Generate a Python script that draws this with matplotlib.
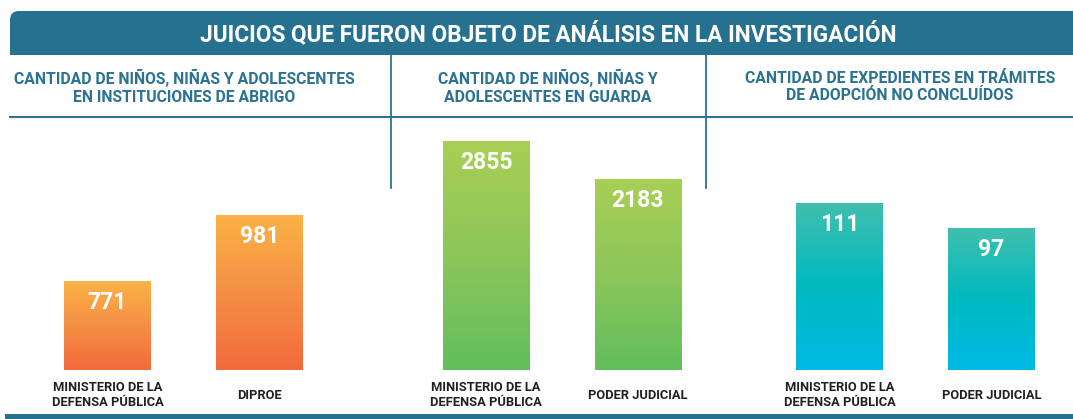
import numpy as np
import matplotlib
matplotlib.use("Agg")
import matplotlib.pyplot as plt
from matplotlib.patches import FancyBboxPatch, Rectangle
from matplotlib.colors import LinearSegmentedColormap

plt.rcParams['font.family'] = ['Roboto', 'DejaVu Sans']

title = "JUICIOS QUE FUERON OBJETO DE ANÁLISIS EN LA INVESTIGACIÓN"
headers = [
    "CANTIDAD DE NIÑOS, NIÑAS Y ADOLESCENTES\nEN INSTITUCIONES DE ABRIGO",
    "CANTIDAD DE NIÑOS, NIÑAS Y\nADOLESCENTES EN GUARDA",
    "CANTIDAD DE EXPEDIENTES EN TRÁMITES\nDE ADOPCIÓN NO CONCLUÍDOS",
]
labels_1 = ["MINISTERIO DE LA\nDEFENSA PÚBLICA", "DIPROE"]
values_1 = [771, 981]
labels_2 = ["MINISTERIO DE LA\nDEFENSA PÚBLICA", "PODER JUDICIAL"]
values_2 = [2855, 2183]
labels_3 = ["MINISTERIO DE LA\nDEFENSA PÚBLICA", "PODER JUDICIAL"]
values_3 = [111, 97]

blue = "#26718f"
head_col = "#2b7391"
grads = [
    ["#f26a3b", "#f58f45", "#fbb246"],
    ["#62be5d", "#8cc65a", "#a8cf55"],
    ["#00bae6", "#00b9c0", "#40bfae"],
]

W, H = 1073, 419
fig = plt.figure(figsize=(W / 100, H / 100), dpi=100)

# decoration layer in pixel coordinates
deco = fig.add_axes([0, 0, 1, 1])
deco.set_xlim(0, W)
deco.set_ylim(H, 0)
deco.axis("off")
deco.add_patch(FancyBboxPatch((10, 11), W, 44, boxstyle="round,pad=0,rounding_size=9",
                              fc=blue, ec="none"))
deco.add_patch(Rectangle((10, 33), W, 22, fc=blue, ec="none"))
deco.text(548, 34, title, color="white", fontsize=16.3, fontweight="bold",
          ha="center", va="center")
deco.plot([10, W], [117, 117], color=head_col, lw=1.5)
deco.plot([391, 391], [55, 188], color=head_col, lw=1.3)
deco.plot([706, 706], [55, 188], color=head_col, lw=1.3)
deco.add_patch(Rectangle((5, 414), W, 6, fc=blue, ec="none"))
for hx, txt in zip([184, 548, 900], headers):
    deco.text(hx, 87, txt, color=head_col, fontsize=11.3, fontweight="bold",
              ha="center", va="center", linespacing=1.2)

panels = [
    (labels_1, values_1, 31.5, (490, 1254)),
    (labels_2, values_2, 410, (-1196, 3052)),
    (labels_3, values_3, 763.5, (18, 152.4)),
]
width = 0.572
for (labs, vals, x0, ylim), cols in zip(panels, grads):
    ax = fig.add_axes([x0 / W, (H - 370) / H, 304 / W, 240 / H])
    ax.set_xlim(-0.5, 1.5)
    ax.set_ylim(*ylim)
    ax.axis("off")
    cmap = LinearSegmentedColormap.from_list("g", cols)
    grad = np.linspace(0, 1, 256).reshape(-1, 1)
    for i, (lab, v) in enumerate(zip(labs, vals)):
        ax.imshow(grad, cmap=cmap, origin="lower", aspect="auto",
                  extent=(i - width / 2, i + width / 2, ylim[0], v), zorder=2)
        ax.annotate(str(v), (i, v), xytext=(0, -21), textcoords="offset pixels",
                    color="white", fontsize=16.5, fontweight="bold",
                    ha="center", va="center")
        ax.annotate(lab, (i, ylim[0]), xytext=(0, -25), textcoords="offset pixels",
                    color="#231f20", fontsize=9.3, fontweight="bold",
                    ha="center", va="center", linespacing=1.2,
                    annotation_clip=False)
    ax.set_xlim(-0.5, 1.5)
    ax.set_ylim(*ylim)

fig.savefig("out.png", dpi=100)
